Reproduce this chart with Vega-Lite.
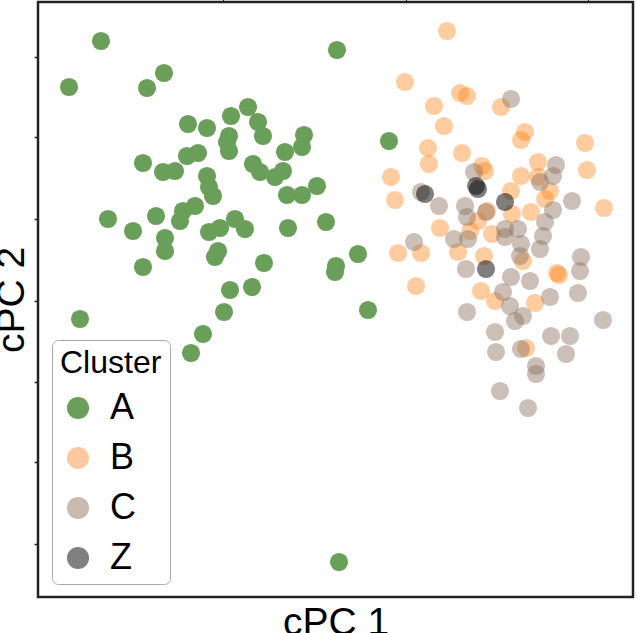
{
  "$schema": "https://vega.github.io/schema/vega-lite/v6.json",
  "width": 595,
  "height": 595,
  "autosize": {"type": "none"},
  "padding": {"left": 38, "top": 2, "right": 4, "bottom": 36},
  "config": {
    "view": {"stroke": "#222222", "strokeWidth": 2.5},
    "font": "Liberation Sans",
    "axis": {"grid": false, "domain": false, "labels": false}
  },
  "data": {
    "values": [
      {"cluster": "A", "x": 63, "y": 556}, {"cluster": "A", "x": 31, "y": 510}, {"cluster": "A", "x": 109, "y": 509}, {"cluster": "A", "x": 126, "y": 524},
      {"cluster": "A", "x": 299, "y": 547}, {"cluster": "A", "x": 150, "y": 473}, {"cluster": "A", "x": 169, "y": 469}, {"cluster": "A", "x": 193, "y": 481},
      {"cluster": "A", "x": 210, "y": 490}, {"cluster": "A", "x": 220, "y": 475}, {"cluster": "A", "x": 225, "y": 461}, {"cluster": "A", "x": 191, "y": 461},
      {"cluster": "A", "x": 189, "y": 455}, {"cluster": "A", "x": 191, "y": 446}, {"cluster": "A", "x": 266, "y": 462}, {"cluster": "A", "x": 264, "y": 450},
      {"cluster": "A", "x": 247, "y": 445}, {"cluster": "A", "x": 105, "y": 434}, {"cluster": "A", "x": 125, "y": 425}, {"cluster": "A", "x": 137, "y": 426},
      {"cluster": "A", "x": 149, "y": 441}, {"cluster": "A", "x": 160, "y": 444}, {"cluster": "A", "x": 215, "y": 433}, {"cluster": "A", "x": 222, "y": 425},
      {"cluster": "A", "x": 237, "y": 420}, {"cluster": "A", "x": 245, "y": 426}, {"cluster": "A", "x": 169, "y": 421}, {"cluster": "A", "x": 171, "y": 410},
      {"cluster": "A", "x": 175, "y": 401}, {"cluster": "A", "x": 249, "y": 402}, {"cluster": "A", "x": 264, "y": 402}, {"cluster": "A", "x": 279, "y": 411},
      {"cluster": "A", "x": 70, "y": 378}, {"cluster": "A", "x": 95, "y": 366}, {"cluster": "A", "x": 118, "y": 381}, {"cluster": "A", "x": 127, "y": 359},
      {"cluster": "A", "x": 127, "y": 346}, {"cluster": "A", "x": 142, "y": 376}, {"cluster": "A", "x": 145, "y": 386}, {"cluster": "A", "x": 157, "y": 391},
      {"cluster": "A", "x": 171, "y": 365}, {"cluster": "A", "x": 182, "y": 369}, {"cluster": "A", "x": 197, "y": 378}, {"cluster": "A", "x": 207, "y": 368},
      {"cluster": "A", "x": 180, "y": 346}, {"cluster": "A", "x": 177, "y": 340}, {"cluster": "A", "x": 105, "y": 330}, {"cluster": "A", "x": 250, "y": 369},
      {"cluster": "A", "x": 288, "y": 375}, {"cluster": "A", "x": 226, "y": 334}, {"cluster": "A", "x": 192, "y": 307}, {"cluster": "A", "x": 214, "y": 310},
      {"cluster": "A", "x": 186, "y": 285}, {"cluster": "A", "x": 42, "y": 278}, {"cluster": "A", "x": 351, "y": 456}, {"cluster": "A", "x": 320, "y": 343},
      {"cluster": "A", "x": 298, "y": 331}, {"cluster": "A", "x": 297, "y": 325}, {"cluster": "A", "x": 330, "y": 287}, {"cluster": "A", "x": 165, "y": 263},
      {"cluster": "A", "x": 153, "y": 244}, {"cluster": "A", "x": 301, "y": 35},
      {"cluster": "B", "x": 409, "y": 566}, {"cluster": "B", "x": 367, "y": 515}, {"cluster": "B", "x": 422, "y": 504}, {"cluster": "B", "x": 429, "y": 501},
      {"cluster": "B", "x": 396, "y": 491}, {"cluster": "B", "x": 463, "y": 490}, {"cluster": "B", "x": 406, "y": 471}, {"cluster": "B", "x": 487, "y": 465},
      {"cluster": "B", "x": 483, "y": 457}, {"cluster": "B", "x": 390, "y": 449}, {"cluster": "B", "x": 391, "y": 433}, {"cluster": "B", "x": 424, "y": 444},
      {"cluster": "B", "x": 547, "y": 454}, {"cluster": "B", "x": 549, "y": 427}, {"cluster": "B", "x": 444, "y": 431}, {"cluster": "B", "x": 353, "y": 420},
      {"cluster": "B", "x": 357, "y": 397}, {"cluster": "B", "x": 500, "y": 435}, {"cluster": "B", "x": 500, "y": 420}, {"cluster": "B", "x": 483, "y": 421},
      {"cluster": "B", "x": 473, "y": 406}, {"cluster": "B", "x": 512, "y": 406}, {"cluster": "B", "x": 566, "y": 389}, {"cluster": "B", "x": 402, "y": 369},
      {"cluster": "B", "x": 360, "y": 344}, {"cluster": "B", "x": 383, "y": 344}, {"cluster": "B", "x": 378, "y": 311}, {"cluster": "B", "x": 420, "y": 345},
      {"cluster": "B", "x": 446, "y": 341}, {"cluster": "B", "x": 443, "y": 306}, {"cluster": "B", "x": 457, "y": 296}, {"cluster": "B", "x": 497, "y": 294},
      {"cluster": "B", "x": 519, "y": 324}, {"cluster": "B", "x": 521, "y": 322}, {"cluster": "B", "x": 493, "y": 385}, {"cluster": "B", "x": 440, "y": 376},
      {"cluster": "B", "x": 449, "y": 386}, {"cluster": "B", "x": 454, "y": 363}, {"cluster": "B", "x": 485, "y": 336}, {"cluster": "B", "x": 488, "y": 249},
      {"cluster": "B", "x": 447, "y": 426}, {"cluster": "B", "x": 432, "y": 366}, {"cluster": "B", "x": 474, "y": 383}, {"cluster": "B", "x": 507, "y": 398},
      {"cluster": "C", "x": 473, "y": 498}, {"cluster": "C", "x": 436, "y": 425}, {"cluster": "C", "x": 518, "y": 432}, {"cluster": "C", "x": 515, "y": 421},
      {"cluster": "C", "x": 502, "y": 415}, {"cluster": "C", "x": 401, "y": 391}, {"cluster": "C", "x": 383, "y": 405}, {"cluster": "C", "x": 427, "y": 391},
      {"cluster": "C", "x": 448, "y": 385}, {"cluster": "C", "x": 534, "y": 396}, {"cluster": "C", "x": 515, "y": 387}, {"cluster": "C", "x": 429, "y": 380},
      {"cluster": "C", "x": 507, "y": 375}, {"cluster": "C", "x": 467, "y": 368}, {"cluster": "C", "x": 480, "y": 368}, {"cluster": "C", "x": 416, "y": 358},
      {"cluster": "C", "x": 430, "y": 358}, {"cluster": "C", "x": 467, "y": 360}, {"cluster": "C", "x": 483, "y": 353}, {"cluster": "C", "x": 502, "y": 348},
      {"cluster": "C", "x": 505, "y": 361}, {"cluster": "C", "x": 376, "y": 355}, {"cluster": "C", "x": 428, "y": 328}, {"cluster": "C", "x": 473, "y": 320},
      {"cluster": "C", "x": 492, "y": 316}, {"cluster": "C", "x": 482, "y": 341}, {"cluster": "C", "x": 543, "y": 340}, {"cluster": "C", "x": 542, "y": 326},
      {"cluster": "C", "x": 540, "y": 304}, {"cluster": "C", "x": 512, "y": 300}, {"cluster": "C", "x": 465, "y": 305}, {"cluster": "C", "x": 429, "y": 285},
      {"cluster": "C", "x": 472, "y": 291}, {"cluster": "C", "x": 565, "y": 277}, {"cluster": "C", "x": 485, "y": 281}, {"cluster": "C", "x": 457, "y": 265},
      {"cluster": "C", "x": 458, "y": 245}, {"cluster": "C", "x": 477, "y": 276}, {"cluster": "C", "x": 483, "y": 248}, {"cluster": "C", "x": 498, "y": 231},
      {"cluster": "C", "x": 498, "y": 223}, {"cluster": "C", "x": 513, "y": 261}, {"cluster": "C", "x": 532, "y": 261}, {"cluster": "C", "x": 528, "y": 243},
      {"cluster": "C", "x": 462, "y": 206}, {"cluster": "C", "x": 490, "y": 189},
      {"cluster": "Z", "x": 387, "y": 403}, {"cluster": "Z", "x": 438, "y": 411}, {"cluster": "Z", "x": 440, "y": 408}, {"cluster": "Z", "x": 467, "y": 395},
      {"cluster": "Z", "x": 448, "y": 328}
    ]
  },
  "layer": [
    {
      "mark": {"type": "point", "filled": true, "size": 330, "strokeWidth": 0},
      "encoding": {
        "x": {
          "field": "x", "type": "quantitative",
          "scale": {"domain": [0, 595], "nice": false, "zero": false},
          "axis": {"title": "cPC 1", "ticks": false, "titleFontSize": 39, "titleFontWeight": "normal", "titlePadding": 6, "titleColor": "black"}
        },
        "y": {
          "field": "y", "type": "quantitative",
          "scale": {"domain": [0, 595], "nice": false, "zero": false},
          "axis": {"title": "cPC 2", "values": [540, 460, 378, 296, 215, 135, 53], "tickSize": 4, "tickColor": "#222222", "tickWidth": 1.5, "titleFontSize": 39, "titleFontWeight": "normal", "titlePadding": 2, "titleColor": "black"}
        },
        "color": {
          "field": "cluster", "type": "nominal",
          "scale": {"range": ["#6a9f5a", "#ff7f0e", "#8c7060", "#000000"]},
          "legend": null
        },
        "opacity": {
          "condition": [
            {"test": "datum.cluster === 'A'", "value": 1},
            {"test": "datum.cluster === 'Z'", "value": 0.5},
            {"test": "datum.cluster === 'C'", "value": 0.45}
          ],
          "value": 0.4
        }
      }
    },
    {
      "mark": {"type": "point", "filled": true, "size": 0, "opacity": 1, "strokeWidth": 0},
      "encoding": {
        "x": {"field": "x", "type": "quantitative", "axis": {"orient": "top", "values": [185, 368, 550], "tickSize": 3, "tickColor": "#222222", "title": null}},
        "fill": {
          "field": "cluster", "type": "nominal",
          "scale": {"domain": ["A", "B", "C", "Z"], "range": ["#6a9f5a", "#fcc89f", "#c9b9ae", "#808080"]},
          "legend": {
            "title": "Cluster", "orient": "none", "legendX": 14, "legendY": 338,
            "titleFontSize": 32, "titleFontWeight": "normal", "titleColor": "black", "titlePadding": 10,
            "labelFontSize": 36, "labelColor": "black", "labelOffset": 14,
            "symbolSize": 490, "symbolType": "circle", "symbolStrokeWidth": 0, "symbolOpacity": 1,
            "strokeColor": "#aaaaaa", "cornerRadius": 6, "padding": 8, "rowPadding": 14, "fillColor": "white"
          }
        }
      }
    }
  ],
  "resolve": {"axis": {"x": "independent"}, "legend": {"color": "independent", "fill": "independent"}}
}
